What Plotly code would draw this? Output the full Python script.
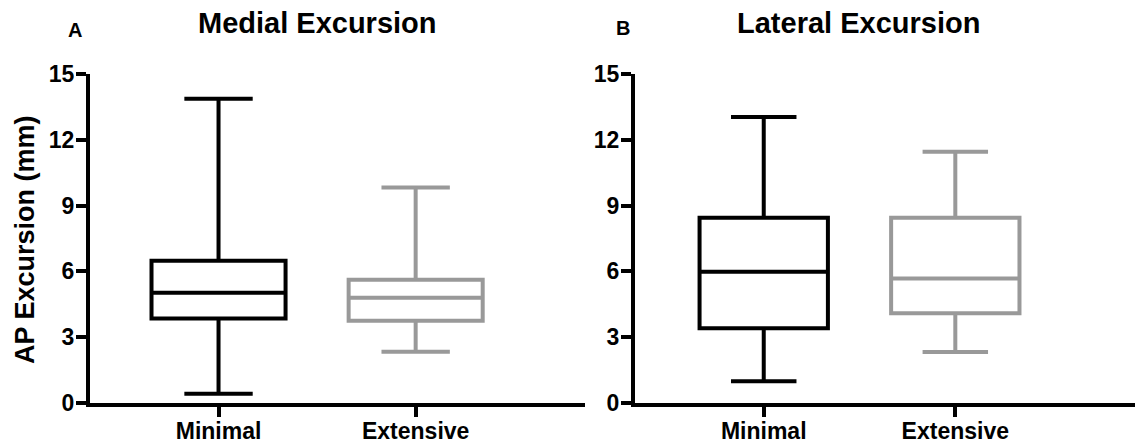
import plotly.graph_objects as go

W, H = 1135, 448

categories = ["Minimal", "Extensive"]

medial_lower = [0.42, 2.34]
medial_q1 = [3.85, 3.75]
medial_median = [5.03, 4.80]
medial_q3 = [6.49, 5.62]
medial_upper = [13.87, 9.82]

lateral_lower = [0.99, 2.32]
lateral_q1 = [3.41, 4.09]
lateral_median = [5.98, 5.68]
lateral_q3 = [8.45, 8.45]
lateral_upper = [13.04, 11.45]

y_ticks = [0, 3, 6, 9, 12, 15]
panel_titles = ["Medial Excursion", "Lateral Excursion"]
panel_letters = ["A", "B"]
y_title = "AP Excursion (mm)"

colors = ["#000000", "#999999"]
FONT = "Liberation Sans, Arial, sans-serif"

fig = go.Figure()

panels = [
    (medial_lower, medial_q1, medial_median, medial_q3, medial_upper, "x", "y", 0.68),
    (lateral_lower, lateral_q1, lateral_median, lateral_q3, lateral_upper, "x2", "y2", 0.67),
]
for lo, q1, med, q3, up, xa, ya, bw in panels:
    for i, cat in enumerate(categories):
        fig.add_trace(go.Box(
            x=[cat], q1=[q1[i]], median=[med[i]], q3=[q3[i]],
            lowerfence=[lo[i]], upperfence=[up[i]],
            xaxis=xa, yaxis=ya, width=bw, whiskerwidth=0.51,
            line=dict(color=colors[i], width=4),
            fillcolor="rgba(0,0,0,0)", boxpoints=False,
            showlegend=False, hoverinfo="skip",
        ))

def px_x(p):
    return p / W

def px_y(p):
    return 1 - p / H

tickfont = dict(family=FONT, size=23, color="black", weight="bold")
axis_common = dict(showline=True, linewidth=4, linecolor="black", ticks="outside",
                   tickwidth=4, tickcolor="black", showgrid=False,
                   zeroline=False, tickfont=tickfont, automargin=False)

ydom = [px_y(403), px_y(74)]
fig.update_layout(
    width=W, height=H,
    margin=dict(l=0, r=0, t=0, b=0),
    paper_bgcolor="white", plot_bgcolor="white",
    boxmode="overlay",
    xaxis=dict(domain=[px_x(90), px_x(585)], range=[-0.652, 1.859], type="category",
               categoryorder="array", categoryarray=categories, ticklen=10,
               ticklabelstandoff=-6, anchor="y", **axis_common),
    yaxis=dict(domain=ydom, range=[0, 15], tickvals=y_ticks, ticklen=10,
               ticklabelstandoff=-3, anchor="x", **axis_common),
    xaxis2=dict(domain=[px_x(635), 1.0], range=[-0.672, 1.938], type="category",
                categoryorder="array", categoryarray=categories, ticklen=10,
                ticklabelstandoff=-6, anchor="y2", **axis_common),
    yaxis2=dict(domain=ydom, range=[0, 15], tickvals=y_ticks, ticklen=10,
                ticklabelstandoff=-3, anchor="x2", **axis_common),
)

ann = []
ann.append(dict(text=panel_titles[0], x=px_x(317), y=px_y(23), xref="paper", yref="paper",
                xanchor="center", yanchor="middle", showarrow=False,
                font=dict(family=FONT, size=29, color="black", weight="bold")))
ann.append(dict(text=panel_titles[1], x=px_x(858), y=px_y(23), xref="paper", yref="paper",
                xanchor="center", yanchor="middle", showarrow=False,
                font=dict(family=FONT, size=29, color="black", weight="bold")))
ann.append(dict(text=panel_letters[0], x=px_x(75), y=px_y(30), xref="paper", yref="paper",
                xanchor="center", yanchor="middle", showarrow=False,
                font=dict(family=FONT, size=20, color="black", weight="bold")))
ann.append(dict(text=panel_letters[1], x=px_x(623), y=px_y(28), xref="paper", yref="paper",
                xanchor="center", yanchor="middle", showarrow=False,
                font=dict(family=FONT, size=20, color="black", weight="bold")))
ann.append(dict(text=y_title, x=px_x(25), y=px_y(240), xref="paper", yref="paper",
                xanchor="center", yanchor="middle", showarrow=False, textangle=-90,
                font=dict(family=FONT, size=27, color="black", weight="bold")))
fig.update_layout(annotations=ann)

fig.write_html("out.html")
